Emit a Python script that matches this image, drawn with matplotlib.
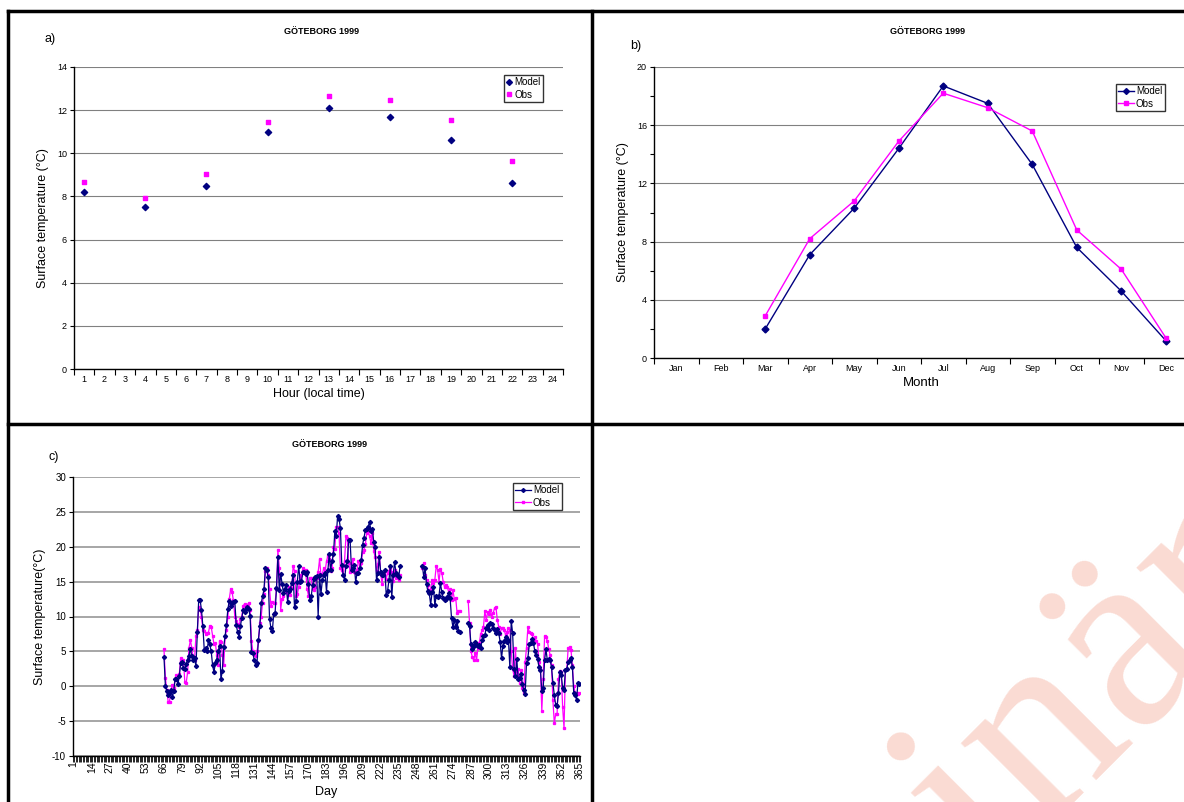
"""Göteborg 1999: modellerad och observerad yttemperatur (tim-, månads- och dygnsvärden)."""

import matplotlib.pyplot as plt
import numpy as np
from matplotlib.lines import Line2D

plt.rcParams["font.family"] = ["Liberation Sans", "DejaVu Sans"]
plt.rcParams["axes.unicode_minus"] = False

# --- a) Timvärden ---
hours = [1, 4, 7, 10, 13, 16, 19, 22]
hour_model = [8.2, 7.5, 8.5, 11.0, 12.1, 11.7, 10.6, 8.6]
hour_obs = [8.65, 7.95, 9.05, 11.45, 12.65, 12.45, 11.55, 9.65]

# --- b) Månadsvärden ---
months = ["Jan", "Feb", "Mar", "Apr", "May", "Jun", "Jul", "Aug", "Sep", "Oct", "Nov", "Dec"]
month_model = [np.nan, np.nan, 2.0, 7.1, 10.3, 14.4, 18.7, 17.5, 13.3, 7.6, 4.6, 1.2]
month_obs = [np.nan, np.nan, 2.9, 8.2, 10.8, 14.9, 18.2, 17.2, 15.6, 8.8, 6.1, 1.4]

# --- c) Dygnsvärden, tre perioder med data ---
seg_start = [66, 252, 285]
model_seg1 = [
    4.2, 0.1, -0.7, -1.3, -0.8, -0.5, -1.6, -0.7, 1.0, 1.1,
    0.3, 1.4, 3.3, 3.5, 2.6, 2.5, 3.2, 3.8, 4.4, 5.4,
    4.3, 3.7, 4.0, 2.9, 7.8, 12.4, 12.4, 10.9, 8.6, 5.2,
    5.5, 5.0, 6.6, 6.0, 5.0, 3.0, 2.0, 3.4, 3.8, 5.0,
    5.8, 1.0, 2.2, 5.6, 7.2, 8.8, 11.1, 12.2, 11.5, 11.9,
    12.1, 12.2, 8.8, 7.8, 7.1, 8.6, 9.8, 10.9, 10.6, 11.1,
    11.3, 11.1, 10.1, 4.9, 4.8, 3.7, 3.1, 3.4, 6.7, 8.6,
    11.9, 12.9, 13.9, 16.9, 16.6, 15.7, 9.7, 8.3, 7.9, 10.4,
    10.5, 14.1, 18.6, 13.8, 16.1, 14.7, 13.4, 13.9, 14.5, 12.1,
    13.6, 14.0, 14.8, 15.9, 11.3, 12.2, 15.0, 17.3, 15.0, 15.1,
    16.4, 16.4, 16.1, 16.4, 14.6, 12.3, 12.9, 14.5, 15.4, 15.6,
    15.8, 10.0, 16.0, 13.2, 15.2, 15.9, 16.2, 13.5, 16.6, 19.0,
    16.7, 18.0, 18.9, 22.2, 21.5, 24.4, 24.0, 22.7, 17.4, 16.0,
    15.2, 17.3, 18.0, 21.0, 20.9, 16.7, 17.0, 17.4, 14.9, 16.3,
    16.3, 17.0, 18.1, 20.3, 21.3, 22.4, 22.6, 22.9, 23.5, 22.3,
    22.6, 20.7, 20.0, 15.2, 16.2, 18.5, 16.4, 15.9, 16.0, 16.7,
    13.1, 13.7, 15.3, 17.3, 12.8, 16.0, 17.8, 16.3, 16.0, 15.7,
    17.2,
]
obs_seg1 = [
    5.3, 1.2, -0.5, -2.2, -2.2, -0.6, 0.2, -0.3, 1.0, 1.6,
    1.5, 1.7, 4.0, 3.6, 3.8, 0.6, 0.5, 2.0, 5.5, 6.6,
    5.5, 4.0, 3.8, 7.2, 8.0, 11.4, 11.0, 10.0, 8.0, 7.9,
    7.5, 7.6, 7.7, 8.7, 8.5, 7.2, 6.0, 6.2, 4.5, 3.0,
    6.5, 6.3, 4.5, 3.0, 7.0, 8.1, 10.0, 12.5, 13.9, 13.5,
    12.3, 10.0, 9.4, 8.9, 8.5, 9.6, 10.0, 11.5, 11.8, 11.5,
    11.7, 11.9, 11.0, 6.5, 5.0, 4.5, 4.3, 5.0, 6.5, 9.1,
    10.0, 12.0, 13.2, 16.5, 17.0, 16.0, 14.0, 11.5, 12.1, 12.0,
    12.0, 14.0, 19.5, 17.0, 11.0, 12.5, 13.0, 14.0, 13.5, 13.2,
    14.3, 13.1, 14.1, 17.3, 16.5, 13.0, 13.2, 14.2, 15.5, 16.0,
    16.9, 16.7, 16.7, 14.0, 13.0, 15.5, 15.5, 14.0, 13.8, 14.3,
    15.5, 16.4, 18.2, 16.0, 16.1, 16.9, 16.5, 17.9, 18.7, 18.2,
    16.5, 17.0, 20.0, 19.7, 22.9, 22.8, 22.0, 17.0, 16.6, 16.0,
    18.0, 21.5, 21.2, 17.6, 16.4, 17.5, 18.3, 16.4, 16.3, 16.7,
    18.0, 17.5, 17.7, 19.2, 19.6, 20.4, 22.0, 22.3, 21.5, 20.5,
    21.9, 19.4, 18.5, 16.5, 17.5, 19.3, 16.1, 14.7, 16.3, 16.5,
    15.4, 16.3, 16.5, 16.9, 16.4, 15.1, 16.7, 15.5, 15.6, 15.2,
    16.0,
]
model_seg2 = [
    17.3, 15.7, 16.9, 14.6, 13.6, 13.3, 11.7, 13.5, 14.2, 11.6,
    13.0, 12.8, 13.0, 14.8, 13.5, 12.6, 12.4, 12.5, 12.8, 13.3,
    12.6, 9.8, 8.5, 9.5, 8.5, 9.3, 7.9, 7.8,
]
obs_seg2 = [
    17.0, 17.7, 16.0, 15.3, 14.5, 13.5, 14.0, 15.2, 14.8, 15.3,
    17.2, 16.7, 15.0, 16.8, 16.3, 15.0, 14.2, 14.5, 14.2, 13.5,
    13.9, 12.3, 13.8, 12.5, 12.7, 10.5, 10.8, 10.8,
]
model_seg3 = [
    9.1, 8.6, 6.0, 5.3, 5.7, 6.3, 5.9, 5.8, 5.9, 5.5,
    6.6, 7.2, 7.3, 8.4, 8.8, 8.1, 9.0, 8.9, 8.3, 8.0,
    7.6, 8.2, 7.6, 6.4, 4.0, 5.8, 6.5, 7.0, 6.3, 6.6,
    2.7, 9.4, 7.6, 2.5, 1.4, 3.9, 1.0, 1.2, 1.7, 0.3,
    -0.6, -1.1, 3.4, 4.1, 6.0, 6.2, 6.8, 6.2, 5.0, 4.5,
    3.9, 2.7, 2.4, -0.7, -0.3, 3.8, 5.3, 3.7, 3.9, 3.8,
    2.7, 0.5, -1.3, -2.7, -2.8, -1.0, 2.0, 1.6, -0.2, -0.6,
    2.3, 2.5, 3.5, 3.7, 4.0, 2.8, -1.0, -1.3, -1.9, 0.4,
    0.3,
]
obs_seg3 = [
    12.2, 9.0, 5.0, 4.2, 3.7, 4.8, 3.7, 5.5, 6.2, 7.5,
    8.0, 8.5, 10.8, 9.5, 10.6, 10.3, 11.0, 10.0, 10.5, 11.2,
    11.3, 9.5, 8.5, 7.5, 8.4, 8.4, 8.0, 7.3, 7.8, 8.3,
    8.0, 5.0, 2.5, 1.5, 5.5, 1.5, 2.5, 0.5, 2.3, -0.2,
    -1.0, 3.5, 5.5, 8.5, 7.8, 7.6, 7.5, 6.6, 7.0, 6.5,
    6.0, 3.5, 2.5, -3.5, 1.0, 7.2, 7.0, 6.5, 5.3, 4.5,
    3.0, -2.0, -5.3, -4.0, -4.0, 1.0, 2.2, 2.0, -3.0, -6.0,
    2.3, 2.5, 5.5, 5.6, 5.2, 3.0, 0.0, -0.9, -1.0, -1.1,
    -1.0,
]

MODEL_COLOR = "#000080"
OBS_COLOR = "#FF00FF"
GRID_COLOR = "#808080"
TITLE = "GÖTEBORG 1999"

W, H = 1184, 802


def fx(px):
    return px / W


def fy(py):
    return 1 - py / H


def style_axes(ax, grid_color=GRID_COLOR, grid_lw=0.8):
    """Excel-liknande axlar: bara vänster och nederkant, grå horisontella linjer."""
    for side in ["top", "right"]:
        ax.spines[side].set_visible(False)
    for side in ["left", "bottom"]:
        ax.spines[side].set_linewidth(1.0)
        ax.spines[side].set_color("black")
    ax.yaxis.grid(True, color=grid_color, linewidth=grid_lw)
    ax.set_axisbelow(True)
    ax.tick_params(axis="y", direction="out", length=3, width=0.8, labelsize=6.5, pad=2)


def category_xaxis(ax, n, labels, rotation=0, labelsize=6.5, ticklen=4):
    """Kategoriaxel: streck mellan kategorierna, etiketter i mitten."""
    ax.set_xlim(0.5, n + 0.5)
    ax.set_xticks(np.arange(0.5, n + 1, 1.0), minor=True)
    ax.set_xticks(labels[0], labels[1], rotation=rotation)
    ax.tick_params(axis="x", which="minor", direction="out", length=ticklen, width=0.8)
    ax.tick_params(axis="x", which="major", length=0, labelsize=labelsize, pad=4)


def add_legend(ax, handles, x0, y0, handlelength=1.6):
    leg = ax.legend(
        handles=handles,
        labels=["Model", "Obs"],
        loc="upper left",
        bbox_to_anchor=(fx(x0), fy(y0)),
        bbox_transform=ax.figure.transFigure,
        fontsize=7,
        frameon=True,
        fancybox=False,
        handlelength=handlelength,
        handletextpad=0.2,
        borderpad=0.25,
        labelspacing=0.25,
        borderaxespad=0,
    )
    leg.get_frame().set_edgecolor("black")
    leg.get_frame().set_linewidth(1.0)


fig = plt.figure(figsize=(W / 100, H / 100), dpi=100)

# --- a) ---
ax1 = fig.add_axes([fx(74), fy(369), fx(563 - 74), (369 - 67) / H])
style_axes(ax1)
ax1.scatter(hours, hour_model, marker="D", s=10, color=MODEL_COLOR, zorder=3)
ax1.scatter(hours, hour_obs, marker="s", s=8, color=OBS_COLOR, zorder=3)
ax1.set_ylim(0, 14)
ax1.set_yticks(range(0, 15, 2))
category_xaxis(ax1, 24, (range(1, 25), [str(h) for h in range(1, 25)]))
ax1.set_xlabel("Hour (local time)", fontsize=9, labelpad=3)
ax1.set_ylabel("Surface temperature (°C)", fontsize=9, labelpad=6)
add_legend(
    ax1,
    [
        Line2D([], [], ls="none", marker="D", ms=3, color=MODEL_COLOR),
        Line2D([], [], ls="none", marker="s", ms=3, color=OBS_COLOR),
    ],
    504,
    75,
    handlelength=0.6,
)

# --- b) ---
ax2 = fig.add_axes([fx(654), fy(358), fx(1188 - 654), (358 - 67) / H])
style_axes(ax2)
mx = np.arange(1, 13)
ax2.plot(mx, month_model, color=MODEL_COLOR, lw=1.0, marker="D", ms=3.5, zorder=3)
ax2.plot(mx, month_obs, color=OBS_COLOR, lw=1.0, marker="s", ms=3, zorder=3)
ax2.set_ylim(0, 20)
ax2.set_yticks(range(0, 21, 4))
ax2.set_yticks(range(2, 20, 4), minor=True)
ax2.tick_params(axis="y", which="minor", direction="out", length=3, width=0.8)
category_xaxis(ax2, 12, (mx, months))
ax2.set_xlabel("Month", fontsize=9.5, labelpad=3)
ax2.set_ylabel("Surface temperature (°C)", fontsize=9, labelpad=6)
add_legend(
    ax2,
    [
        Line2D([], [], lw=1.0, marker="D", ms=3, color=MODEL_COLOR),
        Line2D([], [], lw=1.0, marker="s", ms=2.5, color=OBS_COLOR),
    ],
    1116,
    84,
)

# --- c) ---
days = np.arange(1, 366)
day_model = np.full(365, np.nan)
day_obs = np.full(365, np.nan)
for start, m, o in zip(seg_start, [model_seg1, model_seg2, model_seg3], [obs_seg1, obs_seg2, obs_seg3]):
    day_model[start - 1 : start - 1 + len(m)] = m
    day_obs[start - 1 : start - 1 + len(o)] = o

ax3 = fig.add_axes([fx(73), fy(756), fx(580 - 73), (756 - 477) / H])
style_axes(ax3, grid_color="#A6A6A6", grid_lw=1.4)
ax3.plot(days, day_obs, color=OBS_COLOR, lw=0.9, marker="s", ms=1.4, zorder=3)
ax3.plot(days, day_model, color=MODEL_COLOR, lw=0.9, marker="D", ms=2.1, zorder=4)
ax3.set_ylim(-10, 30)
ax3.set_yticks(range(-10, 31, 5))
label_days = list(range(1, 366, 13))
category_xaxis(ax3, 365, (label_days, [str(d) for d in label_days]), rotation=90, labelsize=7.5, ticklen=4)
ax3.tick_params(axis="x", which="minor", width=0.6)
ax3.tick_params(axis="y", labelsize=7)
ax3.set_xlabel("Day", fontsize=9, labelpad=5)
ax3.set_ylabel("Surface temperature(°C)", fontsize=9, labelpad=4)
add_legend(
    ax3,
    [
        Line2D([], [], lw=0.9, marker="D", ms=2, color=MODEL_COLOR),
        Line2D([], [], lw=0.9, marker="s", ms=1.5, color=OBS_COLOR),
    ],
    513,
    483,
)

# Rubriker och panelbokstäver
for (tx, ty), (lx, ly), letter in [
    ((322, 31), (50, 39), "a)"),
    ((928, 31), (636, 46), "b)"),
    ((330, 444), (54, 457), "c)"),
]:
    fig.text(fx(tx), fy(ty), TITLE, fontsize=6.5, fontweight="bold", ha="center", va="center")
    fig.text(fx(lx), fy(ly), letter, fontsize=9, ha="center", va="center")

# Ramar runt panelerna
frame = dict(color="black", linewidth=2.5, transform=fig.transFigure)
fig.add_artist(Line2D([fx(8), fx(8)], [0, fy(11)], **frame))
fig.add_artist(Line2D([fx(8), 1], [fy(11), fy(11)], **frame))
fig.add_artist(Line2D([fx(592), fx(592)], [0, fy(11)], **frame))
fig.add_artist(Line2D([fx(8), 1], [fy(424), fy(424)], **frame))

# Vattenstämpel
fig.text(
    fx(1280),
    fy(590),
    "Preliminär",
    fontsize=190,
    family="Liberation Serif",
    color="#FADBD3",
    rotation=45,
    rotation_mode="anchor",
    ha="right",
    va="baseline",
    zorder=0,
)

fig.savefig("out.png", dpi=100)
